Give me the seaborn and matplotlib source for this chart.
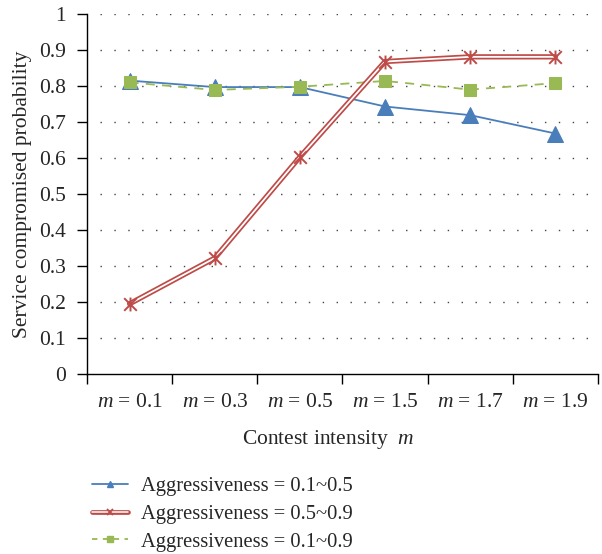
import matplotlib
matplotlib.use("Agg")
import matplotlib.pyplot as plt
import seaborn as sns
import pandas as pd
import numpy as np
from matplotlib.lines import Line2D
from matplotlib.legend_handler import HandlerTuple
from matplotlib.path import Path

categories = ["0.1", "0.3", "0.5", "1.5", "1.7", "1.9"]
blue_vals = [0.815, 0.797, 0.797, 0.743, 0.719, 0.668]
red_vals = [0.195, 0.322, 0.603, 0.868, 0.881, 0.881]
green_vals = [0.810, 0.789, 0.798, 0.814, 0.790, 0.808]
series_names = ["Aggressiveness = 0.1~0.5", "Aggressiveness = 0.5~0.9", "Aggressiveness = 0.1~0.9"]

sns.set_theme(style="white")
plt.rcParams['font.family'] = ['Liberation Serif', 'DejaVu Serif']
plt.rcParams['mathtext.fontset'] = 'custom'
plt.rcParams['mathtext.it'] = 'Liberation Serif:italic'
plt.rcParams['mathtext.rm'] = 'Liberation Serif'

FS = 15.5
LFS = 14.8
blue = "#4a7ebb"
red = "#be4b48"
green = "#98b954"

star = Path([(-1, -1), (1, 1), (-1, 1), (1, -1), (0, -1.1), (0, 1.1)],
            [Path.MOVETO, Path.LINETO, Path.MOVETO, Path.LINETO, Path.MOVETO, Path.LINETO])

fig = plt.figure(figsize=(6.02, 5.54), dpi=100)
ax = fig.add_axes([87/602, 1-374/554, (598-87)/602, 360/554])

x = np.arange(len(categories))
df = pd.DataFrame({"x": np.tile(x, 3),
                   "y": blue_vals + red_vals + green_vals,
                   "series": np.repeat(series_names, len(categories))})

# gridlines
for yv in np.arange(0.1, 1.01, 0.1):
    ax.plot([-0.35, 5.5], [yv, yv], color="#444444", linestyle=(0, (1, 9)), linewidth=1.0, zorder=0)

d_b = df[df.series == series_names[0]]
d_r = df[df.series == series_names[1]]
d_g = df[df.series == series_names[2]]

sns.lineplot(data=d_b, x="x", y="y", ax=ax, color=blue, linewidth=1.3,
             marker="^", markersize=11, markeredgecolor=blue, legend=False, zorder=3)
sns.lineplot(data=d_g, x="x", y="y", ax=ax, color=green, linewidth=1.3, linestyle=(0, (5, 4)),
             marker="s", markersize=8.5, markeredgecolor=green, legend=False, zorder=4)
sns.lineplot(data=d_r, x="x", y="y", ax=ax, color=red, linewidth=3.8, legend=False, zorder=5)
sns.lineplot(data=d_r, x="x", y="y", ax=ax, color="white", linewidth=1.3, legend=False, zorder=6)
sns.lineplot(data=d_r, x="x", y="y", ax=ax, color=red, linestyle="", marker=star,
             markersize=10, markeredgewidth=1.4, markeredgecolor=red, markerfacecolor="none",
             legend=False, zorder=7)

ax.set_xlim(-0.5, len(categories) - 0.5)
ax.set_ylim(0, 1)
ax.set_yticks(np.arange(0, 1.01, 0.1))
ax.set_yticklabels(["0"] + [f"{v:.1f}" for v in np.arange(0.1, 0.95, 0.1)] + ["1"], fontsize=FS)
ax.set_xticks(np.arange(-0.5, len(categories), 1.0))
ax.set_xticklabels([])
ax.set_xticks(x, minor=True)
ax.set_xticklabels([f"$m$ = {c}" for c in categories], minor=True, fontsize=FS)
ax.tick_params(axis="x", which="minor", length=0, pad=14)
ax.tick_params(axis="x", which="major", length=7, width=1, direction="out", color="black", bottom=True)
ax.tick_params(axis="y", length=7, width=1, direction="out", color="black", left=True, pad=8)
for s in ["top", "right"]:
    ax.spines[s].set_visible(False)
for s in ["left", "bottom"]:
    ax.spines[s].set_color("black")
    ax.spines[s].set_linewidth(1.0)

ax.set_xlabel("Contest intensity  $m$", fontsize=FS, labelpad=14)
ax.xaxis.set_label_coords((328 - 87) / 511, -0.15)
ax.xaxis.label.set_va("top")
ax.set_ylabel("Service compromised probability", fontsize=FS, labelpad=5)

handles = [
    Line2D([], [], color=blue, linewidth=1.3, marker="^", markersize=5),
    (Line2D([], [], color=red, linewidth=3.4),
     Line2D([], [], color="white", linewidth=1.1),
     Line2D([], [], color=red, linestyle="", marker="x", markersize=4.5, markeredgewidth=1.3)),
    Line2D([], [], color=green, linewidth=1.3, linestyle=(0, (3, 3)), marker="s", markersize=5),
]
fig.legend(handles, series_names, loc="upper left", bbox_to_anchor=(92/602, 1-477/554),
           frameon=False, fontsize=LFS, handlelength=1.75, handletextpad=0.65, labelspacing=0.40,
           borderpad=0, borderaxespad=0,
           handler_map={tuple: HandlerTuple(ndivide=1, pad=0)})

fig.savefig("out.png", dpi=100)
